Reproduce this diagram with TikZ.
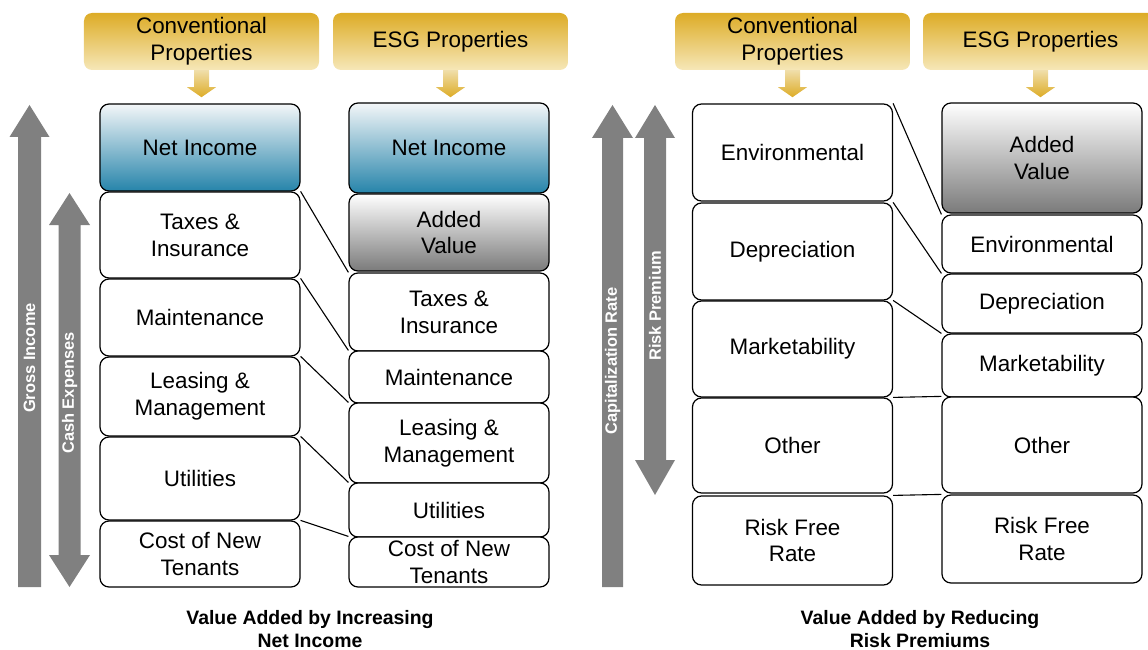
\documentclass[tikz,border=0pt]{standalone}
\usepackage{fontspec}
\setmainfont{Liberation Sans}
\usetikzlibrary{positioning, calc}

\definecolor{goldtop}{RGB}{221,172,38}
\definecolor{goldbot}{RGB}{246,231,184}
\definecolor{arrtop}{RGB}{240,222,170}
\definecolor{bluetop}{RGB}{243,246,248}
\definecolor{bluebot}{RGB}{38,132,170}
\definecolor{arrowgray}{RGB}{128,128,128}

\begin{document}
\begin{tikzpicture}[x=1bp, y=-1bp,
	box/.style={draw=black, line width=1.2bp, rounded corners=9bp, fill=white, minimum width=200bp, inner sep=0pt, align=center, font=\fontsize{22.5}{27}\selectfont},
	blueshade/.style={top color=bluetop, bottom color=bluebot},
	grayshade/.style={top color=white, bottom color=black!52},
	head/.style={rounded corners=8bp, top color=goldtop, bottom color=goldbot, minimum width=235bp, minimum height=57bp, inner sep=0pt, align=center, font=\fontsize{22.5}{27}\selectfont},
	goldarrow/.style={top color=arrtop, bottom color=goldtop},
	bigarrow/.style={fill=arrowgray},
	sidelabel/.style={rotate=90, text=white, font=\bfseries\fontsize{16.5}{19}\selectfont},
	caption/.style={align=center, font=\bfseries\fontsize{19.5}{23}\selectfont},
	link/.style={draw=black, line width=1.1bp}]

	\clip (0,0) rectangle (1148,650);

	% headers
	\node[head] (hL1) at (201.5,41.5) {Conventional\\Properties};
	\node[head] (hL2) at (450.5,41.5) {ESG Properties};
	\node[head] (hR1) at (792.5,41.5) {Conventional\\Properties};
	\node[head] (hR2) at (1040.5,41.5) {ESG Properties};

	\foreach \h in {hL1,hL2,hR1,hR2}
		\shade[goldarrow] ($(\h.south)+(-7.5,0)$) -- ($(\h.south)+(-7.5,17)$) -- ($(\h.south)+(-14.5,17)$)
			-- ($(\h.south)+(0,27)$) -- ($(\h.south)+(14.5,17)$) -- ($(\h.south)+(7.5,17)$) -- ($(\h.south)+(7.5,0)$) -- cycle;

	% gray side arrows
	\fill[bigarrow] (18,587) -- (18,137) -- (9.5,137) -- (29.5,105) -- (49.5,137) -- (41,137) -- (41,587) -- cycle;
	\fill[bigarrow] (58.5,225) -- (49,225) -- (69.5,193) -- (90,225) -- (80.5,225) -- (80.5,555) -- (90,555) -- (69.5,587) -- (49,555) -- (58.5,555) -- cycle;
	\fill[bigarrow] (602,587) -- (602,138) -- (592,138) -- (612.5,105) -- (633,138) -- (623,138) -- (623,587) -- cycle;
	\fill[bigarrow] (644,138) -- (635,138) -- (655,105) -- (675,138) -- (666,138) -- (666,460) -- (675,460) -- (655,495) -- (635,460) -- (644,460) -- cycle;

	\node[sidelabel] (lblGross) at (29.5,358) {Gross Income};
	\node[sidelabel] (lblCash) at (69.5,393) {Cash Expenses};
	\node[sidelabel] (lblCap) at (612.5,361) {Capitalization Rate};
	\node[sidelabel] (lblRisk) at (655,306) {Risk Premium};

	% net income side
	\node[box, blueshade, minimum height=87bp] (cNI) at (200,147.5) {Net Income};
	\node[box, minimum height=86bp] (cTax) at (200,235) {Taxes \&\\Insurance};
	\node[box, minimum height=77bp] (cMnt) at (200,317.5) {Maintenance};
	\node[box, minimum height=79bp] (cLease) at (200,396.5) {Leasing \&\\Management};
	\node[box, minimum height=83bp] (cUtil) at (200,478.5) {Utilities};
	\node[box, minimum height=66bp] (cCost) at (200,554) {Cost of New\\Tenants};

	\node[box, blueshade, minimum height=90bp] (eNI) at (449,148) {Net Income};
	\node[box, grayshade, minimum height=77bp] (eAV) at (449,232.5) {Added\\Value};
	\node[box, minimum height=78bp] (eTax) at (449,312) {Taxes \&\\Insurance};
	\node[box, minimum height=52bp] (eMnt) at (449,377) {Maintenance};
	\node[box, minimum height=80bp] (eLease) at (449,443) {Leasing \&\\Management};
	\node[box, minimum height=54bp] (eUtil) at (449,510) {Utilities};
	\node[box, minimum height=50bp] (eCost) at (449,562) {Cost of New\\Tenants};

	% risk premium side
	\node[box, minimum height=97bp] (rEnv) at (792.5,152.5) {Environmental};
	\node[box, minimum height=97bp] (rDep) at (792.5,251.5) {Depreciation};
	\node[box, minimum height=96bp] (rMkt) at (792.5,349) {Marketability};
	\node[box, minimum height=95bp] (rOth) at (792.5,445.5) {Other};
	\node[box, minimum height=89bp] (rRF) at (792.5,540.5) {Risk Free\\Rate};

	\node[box, grayshade, minimum height=110bp] (sAV) at (1042,158) {Added\\Value};
	\node[box, minimum height=58bp] (sEnv) at (1042,244) {Environmental};
	\node[box, minimum height=59bp] (sDep) at (1042,303.5) {Depreciation};
	\node[box, minimum height=63bp] (sMkt) at (1042,365.5) {Marketability};
	\node[box, minimum height=96bp] (sOth) at (1042,445) {Other};
	\node[box, minimum height=88bp] (sRF) at (1042,539) {Risk Free\\Rate};

	\foreach \a/\b in {cTax/eTax, cMnt/eMnt, cLease/eLease, cUtil/eUtil, cCost/eCost,
		rEnv/sEnv, rDep/sDep, rMkt/sMkt, rOth/sOth, rRF/sRF}
		\draw[link] (\a.north east) -- (\b.north west);

	% captions
	\node[caption] (capL) at (310,629) {Value Added by Increasing\\Net Income};
	\node[caption] (capR) at (920,629) {Value Added by Reducing\\Risk Premiums};
\end{tikzpicture}
\end{document}
